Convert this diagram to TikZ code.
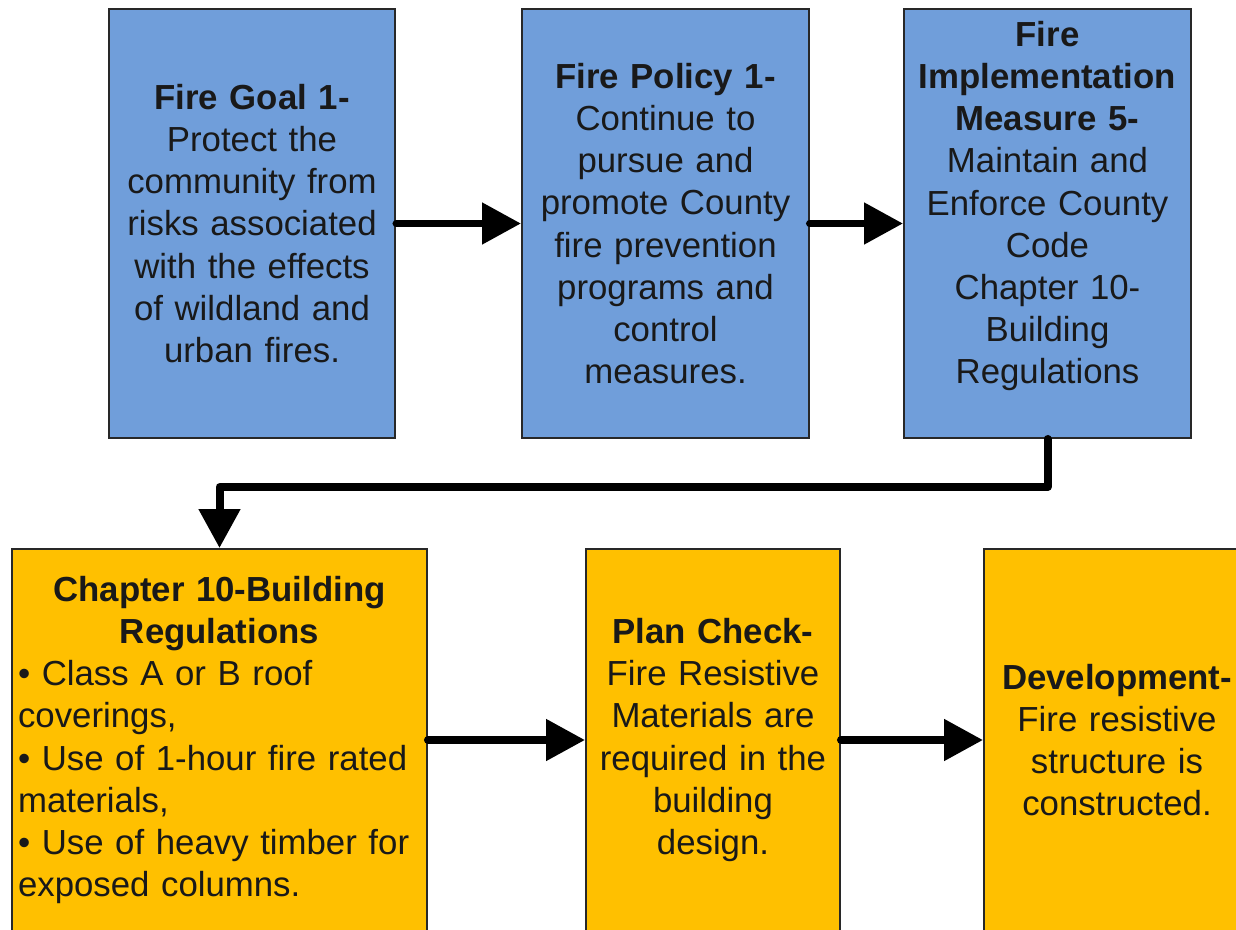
\documentclass[tikz,border=0pt]{standalone}
\usepackage{fontspec}
\setmainfont{Liberation Sans}
\usepackage{xcolor}
\usepackage{tikz}
\usetikzlibrary{arrows.meta}
\definecolor{goalblue}{RGB}{112,158,218}
\definecolor{stageyellow}{RGB}{255,192,0}
\definecolor{boxline}{RGB}{40,40,40}
\tikzset{
	box/.style = {draw=boxline, line width=0.04cm, inner xsep=0.12cm, inner ysep=0pt,
		font=\fontsize{19.8}{24}\selectfont, text=black!90},
	goal/.style = {box, fill=goalblue, align=center, minimum width=5.74cm, minimum height=8.58cm, text width=5.5cm},
	stage/.style = {box, fill=stageyellow, minimum height=7.64cm},
	flow/.style = {line width=0.16cm, line cap=round, line join=round, -{Triangle[length=0.78cm, width=0.8cm]}}
}
\begin{document}
\begin{tikzpicture}[x = 0.02cm, y = -0.02cm]
	\fill[white] (0,0) rectangle (1236,929);
	\useasboundingbox (0,0) rectangle (1236,929);
	\node[goal] (goal) at (252,223.5) {\textbf{Fire Goal 1-}\\ Protect the\\ community from\\ risks associated\\ with the effects\\ of wildland and\\ urban fires.};
	\node[goal] (policy) at (665.5,223.5) {\textbf{Fire Policy 1-}\\ Continue to\\ pursue and\\ promote County\\ fire prevention\\ programs and\\ control\\ measures.};
	\node[goal] (impl) at (1047.5,223.5) {\textbf{Fire}\\ \textbf{Implementation}\\ \textbf{Measure 5-}\\ Maintain and\\ Enforce County\\ Code\\ Chapter 10-\\ Building\\ Regulations\\ \mbox{}};
	\node[stage, align=left, minimum width=8.3cm, text width=8.06cm] (chap) at (219.5,740) {{\centering\bfseries Chapter 10-Building\\ Regulations\par}
		\raggedright • Class A or B roof\\ coverings,\\ • Use of 1-hour fire rated\\ materials,\\ • Use of heavy timber for\\ exposed columns.};
	\node[stage, align=center, minimum width=5.08cm, text width=4.84cm] (check) at (713,740) {\textbf{Plan Check-}\\ Fire Resistive\\ Materials are\\ required in the\\ building\\ design.};
	\node[stage, align=center, minimum width=5.32cm, text width=5.08cm] (dev) at (1117,740) {\textbf{Development-}\\ Fire resistive\\ structure is\\ constructed.};
	\coordinate (bend) at (1047.5,487);
	\draw[flow] (goal.east) -- (policy.west);
	\draw[flow] (policy.east) -- (impl.west);
	\draw[flow] (impl.south) -- (bend) -| (chap.north);
	\draw[flow] (chap.east) -- (check.west);
	\draw[flow] (check.east) -- (dev.west);
\end{tikzpicture}
\end{document}
